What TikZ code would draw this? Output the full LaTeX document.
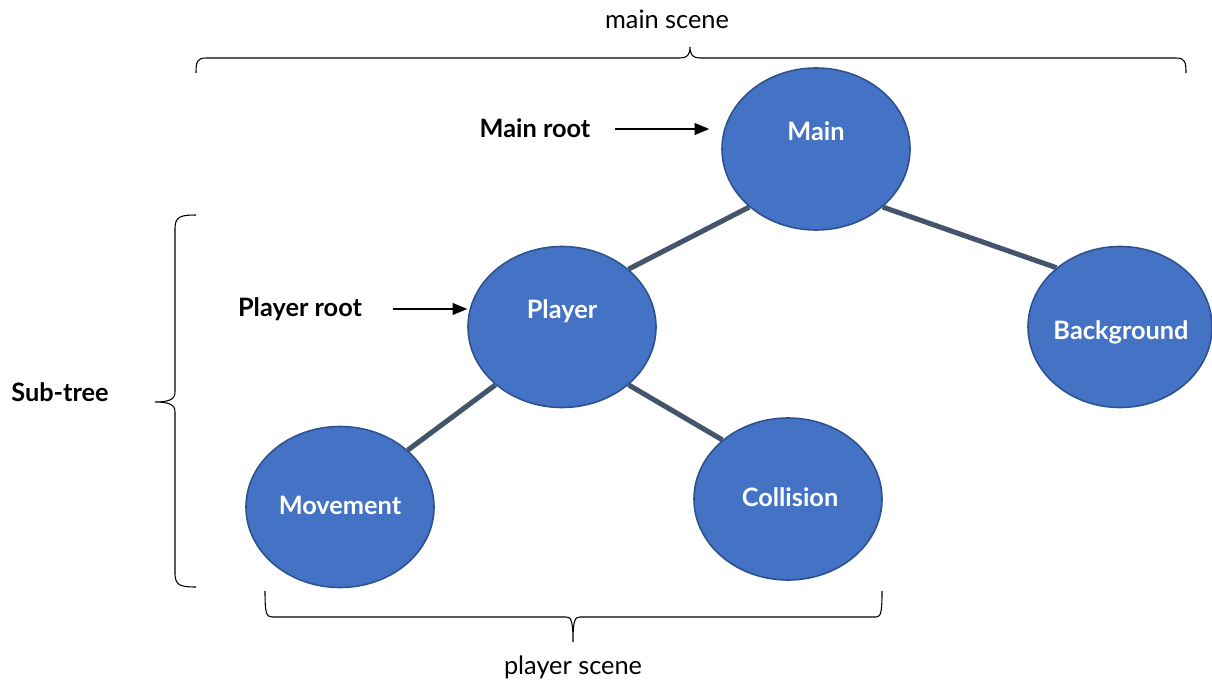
\documentclass[tikz,border=0pt]{standalone}
\usepackage{fontspec}
\setmainfont{Lato}
\usetikzlibrary{arrows.meta,shapes.geometric}
\definecolor{nodefill}{HTML}{4472C4}
\definecolor{nodeline}{HTML}{2F528F}
\definecolor{edgecol}{HTML}{44546A}
\tikzset{
  treenode/.style={ellipse, draw=nodeline, line width=1.2pt, fill=nodefill, inner sep=0pt},
  nodetext/.style={text=white, font=\fontsize{19}{22}\selectfont\bfseries},
  edge/.style={draw=edgecol, line width=3.8pt},
  lbl/.style={font=\fontsize{19}{22}\selectfont\bfseries, text=black},
  plain/.style={font=\fontsize{19}{22}\selectfont, text=black},
  pointer/.style={-{Triangle[length=11pt,width=9pt]}, line width=0.8pt},
  bracepath/.style={line width=0.8pt}
}
\begin{document}
\begin{tikzpicture}[x=0.75pt,y=-0.75pt]
\useasboundingbox (0,0) rectangle (1212,681);
\path (816,149) coordinate (mainc) (562,327) coordinate (playerc) (1120,327) coordinate (bgc) (340,507) coordinate (movec) (788,499) coordinate (collc);
% edges (under nodes)
\node[treenode, minimum width=188*0.75pt, minimum height=162*0.75pt] (main) at (mainc) {};
\node[treenode, minimum width=188*0.75pt, minimum height=161*0.75pt] (player) at (playerc) {};
\node[treenode, minimum width=184*0.75pt, minimum height=161*0.75pt] (bg) at (bgc) {};
\node[treenode, minimum width=188*0.75pt, minimum height=161*0.75pt] (move) at (movec) {};
\node[treenode, minimum width=188*0.75pt, minimum height=162*0.75pt] (coll) at (collc) {};
% edges
\draw[edge] (main.-139) -- (player.41);
\draw[edge] (main.-41) -- (bg.137);
\draw[edge] (player.-139) -- (move.40);
\draw[edge] (player.-41) -- (coll.138);
% node labels
\node[nodetext] (maintxt) at (816,131) {Main};
\node[nodetext] (playertxt) at (562,311) {Player};
\node[nodetext] (bgtxt) at (1121,332) {Background};
\node[nodetext] (movetxt) at (340,505) {Movement};
\node[nodetext] (colltxt) at (790,497) {Collision};
% pointers
\node[lbl] (mainroot) at (535,128) {Main root};
\coordinate (mrs) at (615,129);
\draw[pointer, shorten >=9pt] (mrs) -- (main.west |- mrs);
\node[lbl] (playerroot) at (300,309) {Player root};
\coordinate (prs) at (393,309);
\draw[pointer] (prs) -- (player.west |- prs);
% braces
\node[plain] (mainscene) at (667,19) {main scene};
\draw[bracepath] (196,73) .. controls (196,62) and (197,58) .. (206,58) -- (680,58) .. controls (687,58) and (690,55) .. (690,47) .. controls (690,55) and (693,58) .. (700,58) -- (1176,58) .. controls (1185,58) and (1186,62) .. (1186,73);
\node[lbl] (subtree) at (60,392) {Sub-tree};
\draw[bracepath] (196,215) .. controls (182,215) and (175,216) .. (175,228) -- (175,392) .. controls (175,399) and (170,402) .. (155,402) .. controls (170,402) and (175,405) .. (175,412) -- (175,574) .. controls (175,586) and (182,587) .. (196,587);
\node[plain] (playerscene) at (573,667) {player scene};
\draw[bracepath] (265,591) .. controls (265,612) and (266,617) .. (272,617) -- (566,617) .. controls (571,617) and (573,620) .. (573,642) .. controls (573,620) and (575,617) .. (580,617) -- (876,617) .. controls (881,617) and (882,612) .. (882,591);
\end{tikzpicture}
\end{document}
